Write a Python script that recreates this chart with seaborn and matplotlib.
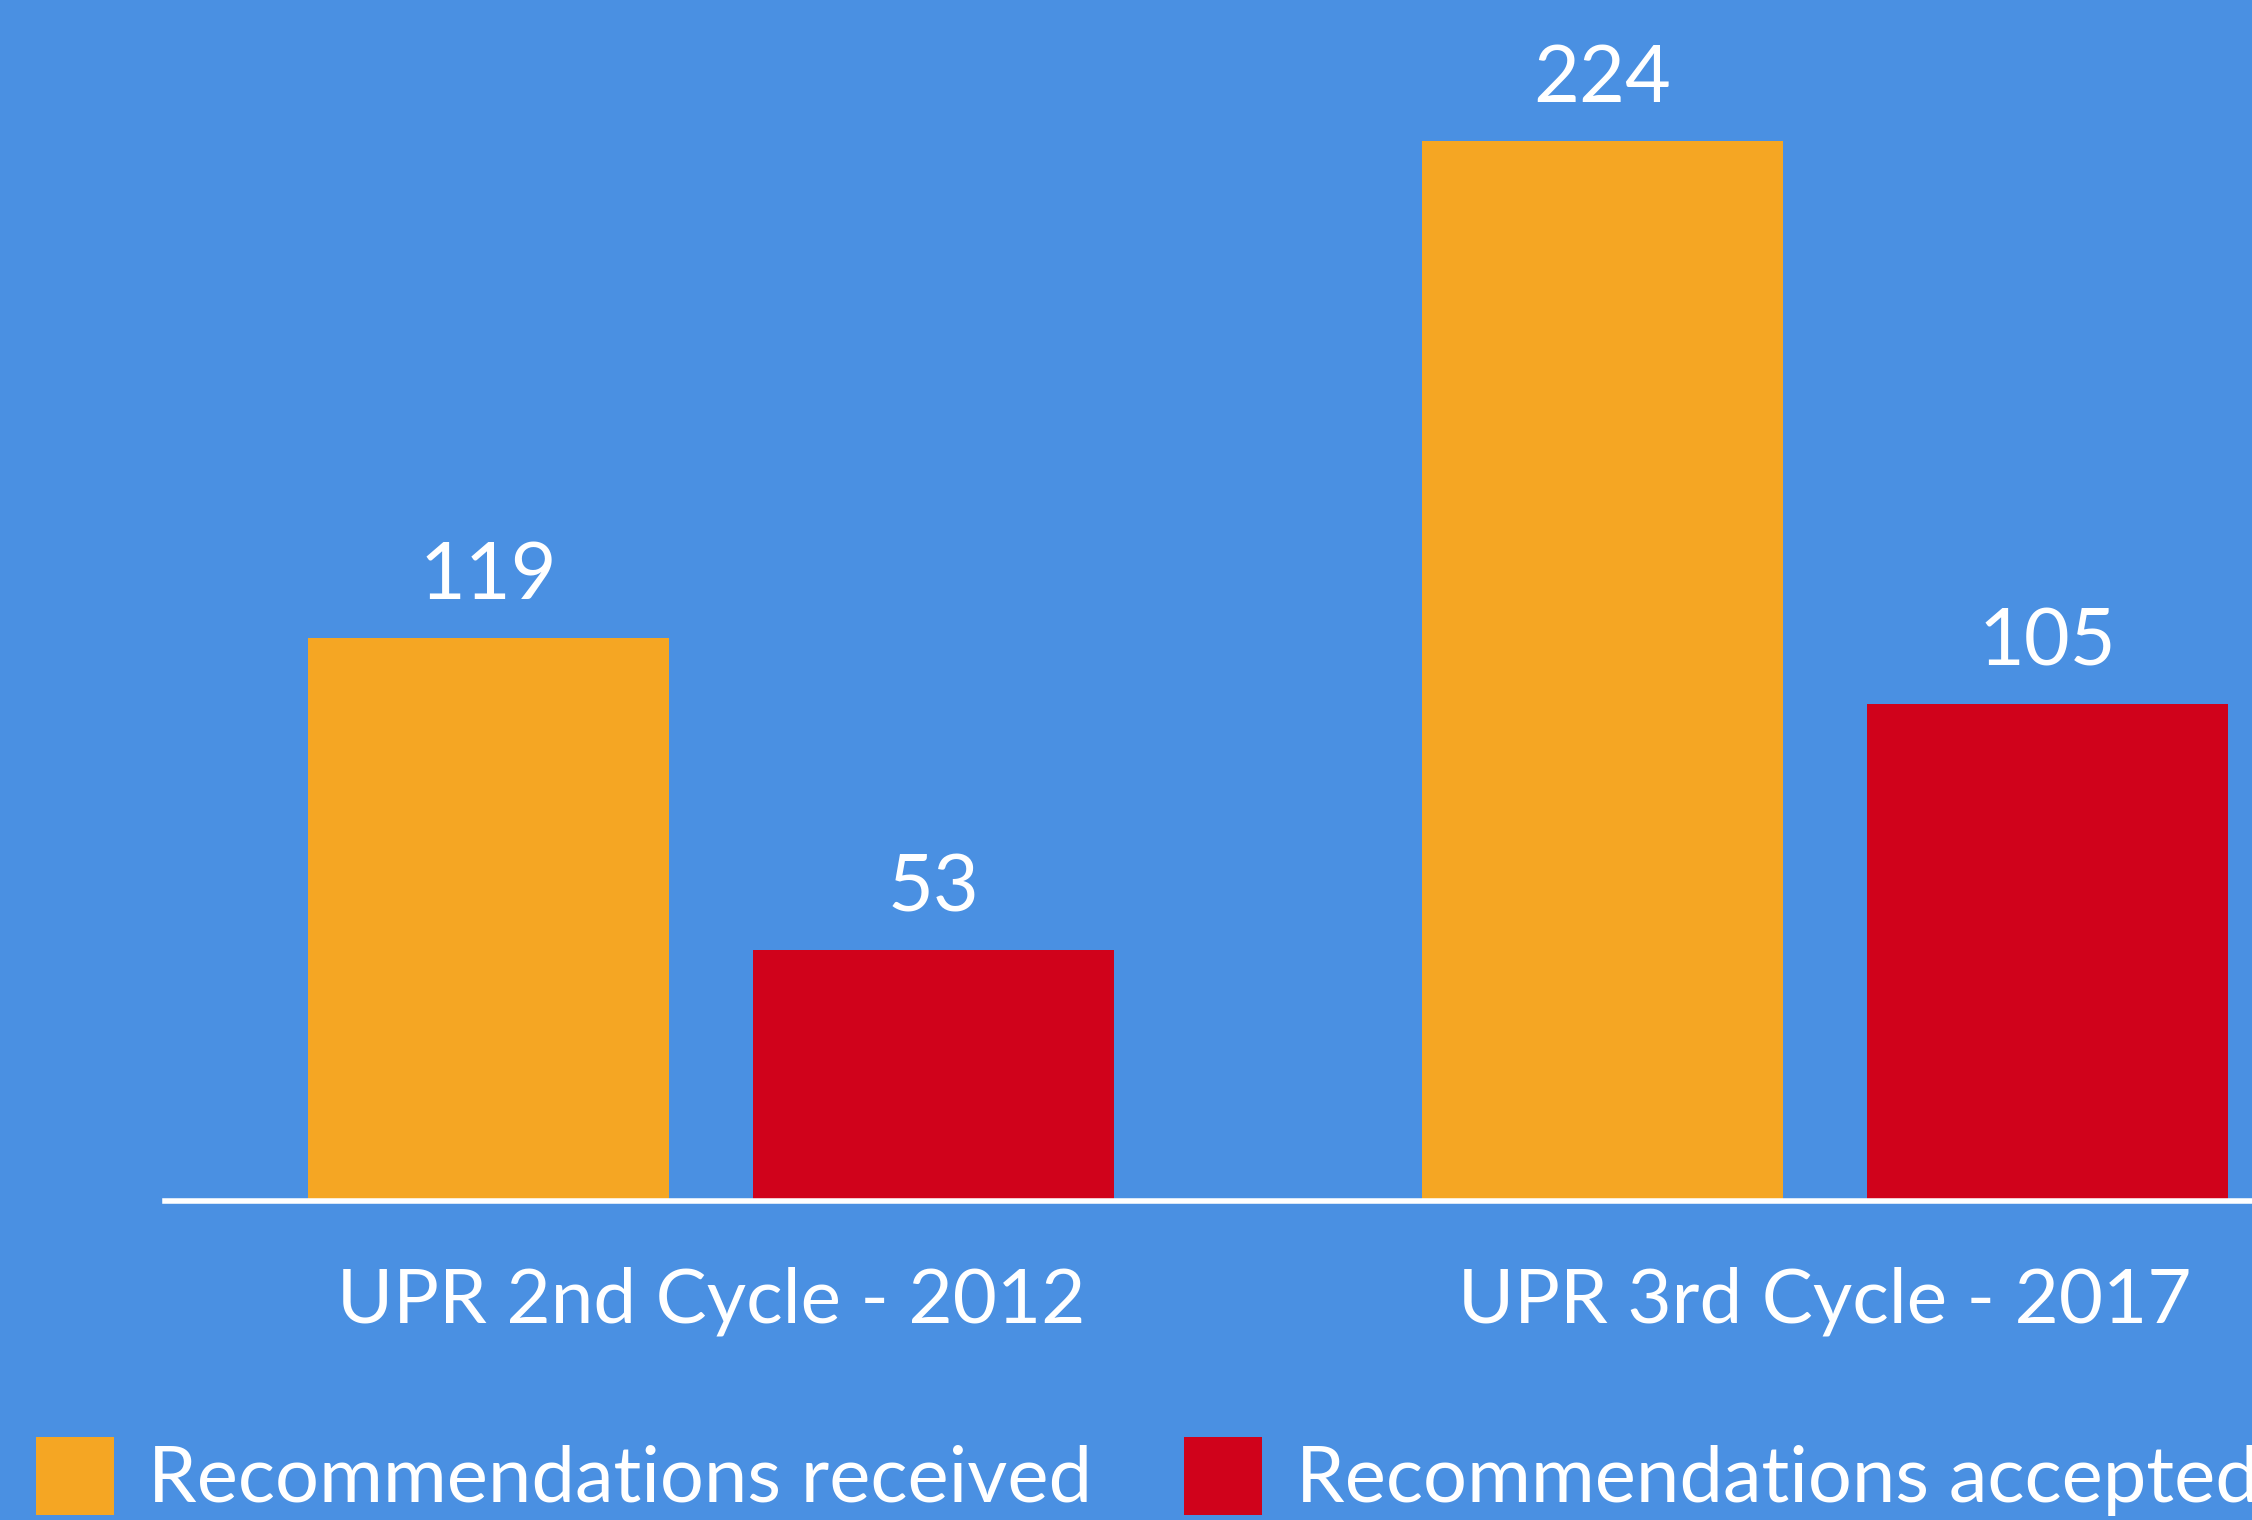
import pandas as pd
import matplotlib.pyplot as plt
import seaborn as sns

# data
cycles = ["UPR 2nd Cycle - 2012", "UPR 3rd Cycle - 2017"]
received = [119, 224]
accepted = [53, 105]
series_names = ["Recommendations received", "Recommendations accepted"]

bg = "#4A90E2"
palette = {series_names[0]: "#F5A623", series_names[1]: "#D0021B"}

df = pd.DataFrame({
    "cycle": cycles * 2,
    "count": received + accepted,
    "series": [series_names[0]] * 2 + [series_names[1]] * 2,
})

sns.set_theme(style="white")
plt.rcParams["font.family"] = "Lato"

W, H = 2252, 1520
fig = plt.figure(figsize=(W / 100, H / 100), dpi=100, facecolor=bg)
base_y = 1201
ax = fig.add_axes([165 / W, (H - base_y) / H, 1 - 165 / W, base_y / H])
ax.set_facecolor(bg)

sns.barplot(data=df, x="cycle", y="count", hue="series", palette=palette,
            width=0.8, gap=0.19, ax=ax, saturation=1, linewidth=0,
            edgecolor="none")

handles, labels = ax.get_legend_handles_labels()
ax.get_legend().remove()

for c in ax.containers:
    ax.bar_label(c, padding=18, fontsize=57, color="white")

ax.set_xlim(-0.4901, 1.3833)
ax.set_ylim(0, base_y / 4.732)
ax.set_xlabel("")
ax.set_ylabel("")
ax.set_yticks([])
ax.tick_params(axis="x", length=0, pad=47, labelsize=55, labelcolor="white")
for s in ["top", "right", "left"]:
    ax.spines[s].set_visible(False)
ax.spines["bottom"].set_color("white")
ax.spines["bottom"].set_linewidth(4)

fig.legend(handles, labels, loc="lower left", bbox_to_anchor=(36 / W, 4 / H),
           ncol=2, frameon=False, fontsize=56, labelcolor="white",
           handlelength=1.0, handleheight=1.167, handletextpad=0.44,
           columnspacing=1.18, borderpad=0, borderaxespad=0)

fig.savefig("out.png", dpi=100, facecolor=bg)
